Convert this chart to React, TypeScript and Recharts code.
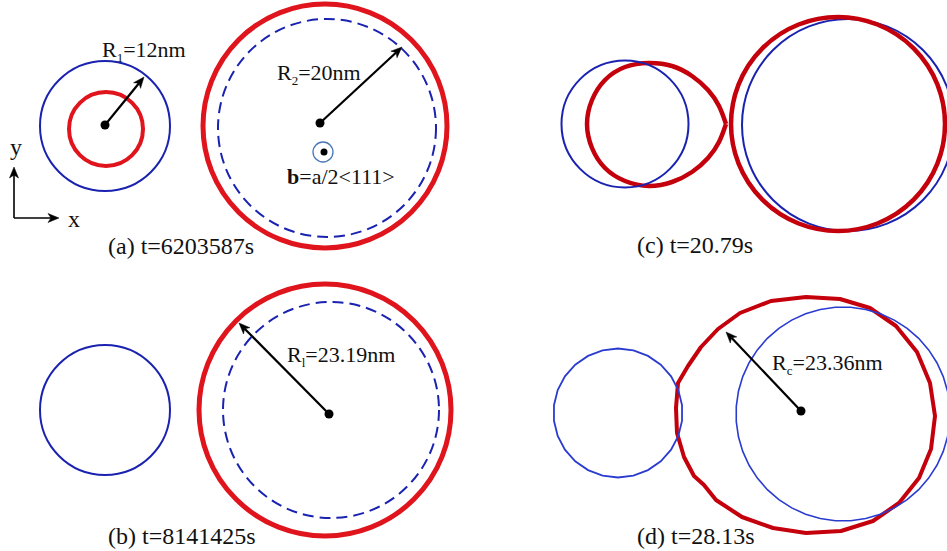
import React from 'react';
import { ComposedChart, XAxis, YAxis, Scatter, Line } from 'recharts';

const W = 947;
const H = 551;
const X_MAX = 947;
const Y_MAX = 551;
const KX = W / X_MAX;
const KY = H / Y_MAX;

// circles: centre (x, y) and radius r, in figure units
const blueCircles = [
  { x: 105, y: 126, r: 65 },
  { x: 105, y: 410, r: 65 },
  { x: 625, y: 124, r: 63.5 },
  { x: 848, y: 125, r: 106 },
];
const blueDashedCircles = [
  { x: 327, y: 128, r: 109 },
  { x: 331, y: 410, r: 108 },
];
const redSmallCircles = [{ x: 106, y: 129, r: 37 }];
const redLargeCircles = [
  { x: 325, y: 126, r: 122 },
  { x: 325, y: 410, r: 126 },
];
const darkRedCircles = [{ x: 838, y: 124, r: 107 }];
const bluePolySmall = [{ x: 618, y: 413, r: 64.5 }];
const bluePolyLarge = [{ x: 843, y: 414, r: 107 }];

// traced outlines
const eggOutline = [
  { x: 726, y: 124 }, { x: 719, y: 142 }, { x: 708, y: 158 }, { x: 692, y: 172 },
  { x: 672, y: 182 }, { x: 649, y: 186 }, { x: 625, y: 181 }, { x: 605, y: 168 },
  { x: 592, y: 148 }, { x: 587, y: 124 }, { x: 592, y: 100 }, { x: 605, y: 80 },
  { x: 625, y: 67 }, { x: 649, y: 63 }, { x: 672, y: 66 }, { x: 692, y: 76 },
  { x: 708, y: 90 }, { x: 719, y: 106 }, { x: 726, y: 124 },
];
const mergedOutline = [
  { x: 806, y: 297 }, { x: 840, y: 299 }, { x: 870, y: 308 }, { x: 896, y: 326 },
  { x: 917, y: 352 }, { x: 930, y: 383 }, { x: 935, y: 416 }, { x: 931, y: 449 },
  { x: 919, y: 478 }, { x: 899, y: 503 }, { x: 873, y: 521 }, { x: 841, y: 531 },
  { x: 806, y: 533 }, { x: 773, y: 528 }, { x: 742, y: 517 }, { x: 716, y: 500 },
  { x: 704, y: 485 }, { x: 694, y: 476 }, { x: 684, y: 457 }, { x: 677, y: 433 },
  { x: 676, y: 408 }, { x: 678, y: 383 }, { x: 688, y: 366 }, { x: 701, y: 347 },
  { x: 718, y: 329 }, { x: 740, y: 313 }, { x: 771, y: 301 },
];

// arrows: from (x, y) to tip (tx, ty)
const radiusArrows = [
  { x: 105, y: 125, tx: 144, ty: 77 },
  { x: 320, y: 123, tx: 402, ty: 47 },
  { x: 329, y: 414, tx: 239, ty: 323 },
  { x: 801, y: 411, tx: 726, ty: 332 },
];
const axisArrows = [
  { x: 14, y: 218, tx: 14, ty: 167 },
  { x: 14, y: 218, tx: 59, ty: 218 },
];
const burgersMark = [{ x: 323, y: 152, r: 10 }];

// texts
const radiusLabels = [
  { x: 102, y: 57, main: 'R', sub: '1', rest: '=12nm' },
  { x: 277, y: 80, main: 'R', sub: '2', rest: '=20nm' },
  { x: 287, y: 362, main: 'R', sub: 'l', rest: '=23.19nm' },
  { x: 772, y: 370, main: 'R', sub: 'c', rest: '=23.36nm' },
];
const burgersLabel = [{ x: 287, y: 184, bold: 'b', rest: '=a/2<111>' }];
const axisLabels = [
  { x: 10, y: 155, text: 'y' },
  { x: 68, y: 227, text: 'x' },
];
const captions = [
  { x: 108, y: 254, text: '(a) t=6203587s' },
  { x: 108, y: 544, text: '(b) t=8141425s' },
  { x: 637, y: 253, text: '(c) t=20.79s' },
  { x: 637, y: 544, text: '(d) t=28.13s' },
];

const FONT = '"Liberation Serif", "Times New Roman", Times, serif';
const RED = '#e0141c';
const DARK_RED = '#c4000c';
const BLUE = '#1a22b0';
const BLUE_D = '#2a3cd0';

const circleShape = (stroke: string, width: number, dash?: string) => (p: any) => (
  <circle
    cx={p.cx}
    cy={p.cy}
    r={p.payload.r * KX}
    fill="none"
    stroke={stroke}
    strokeWidth={width}
    strokeDasharray={dash}
  />
);

const polygonShape = (stroke: string, width: number, n: number) => (p: any) => {
  const r = p.payload.r * KX;
  const pts: string[] = [];
  for (let i = 0; i < n; i++) {
    const a = (2 * Math.PI * i) / n + Math.PI / n;
    pts.push(`${p.cx + r * Math.cos(a)},${p.cy + r * Math.sin(a)}`);
  }
  return <polygon points={pts.join(' ')} fill="none" stroke={stroke} strokeWidth={width} />;
};

const arrowShape = (withDot: boolean, width: number) => (p: any) => {
  const { cx, cy, payload } = p;
  const ex = cx + (payload.tx - payload.x) * KX;
  const ey = cy + (payload.ty - payload.y) * KY;
  const dx = ex - cx;
  const dy = ey - cy;
  const len = Math.hypot(dx, dy) || 1;
  const ux = dx / len;
  const uy = dy / len;
  const hl = 11;
  const hw = 4.5;
  const bx = ex - ux * hl;
  const by = ey - uy * hl;
  const pts = `${ex},${ey} ${bx - uy * hw},${by + ux * hw} ${bx + ux * 3},${by + uy * 3} ${bx + uy * hw},${by - ux * hw}`;
  return (
    <g>
      <line x1={cx} y1={cy} x2={bx + ux * 3} y2={by + uy * 3} stroke="#000" strokeWidth={width} />
      <polygon points={pts} fill="#000" stroke="#000" strokeWidth={0.5} />
      {withDot && <circle cx={cx} cy={cy} r={4.5} fill="#000" />}
    </g>
  );
};

const burgersShape = (p: any) => (
  <g>
    <circle cx={p.cx} cy={p.cy} r={p.payload.r * KX} fill="none" stroke="#4a78b4" strokeWidth={1.3} />
    <circle cx={p.cx + 1} cy={p.cy} r={3.5} fill="#000" />
  </g>
);

const radiusLabelShape = (p: any) => (
  <text x={p.cx} y={p.cy} style={{ fontFamily: FONT }} fontSize={22} fill="#111">
    {p.payload.main}
    <tspan dy={5} fontSize={13}>{p.payload.sub}</tspan>
    <tspan dy={-5}>{p.payload.rest}</tspan>
  </text>
);

const burgersLabelShape = (p: any) => (
  <text x={p.cx} y={p.cy} style={{ fontFamily: FONT }} fontSize={22} fill="#111">
    <tspan fontWeight="bold">{p.payload.bold}</tspan>
    <tspan>{p.payload.rest}</tspan>
  </text>
);

const textShape = (size: number) => (p: any) => (
  <text x={p.cx} y={p.cy} style={{ fontFamily: FONT }} fontSize={size} fill="#111">
    {p.payload.text}
  </text>
);

export default function App() {
  return (
    <div style={{ position: 'absolute', left: 0, top: 0, width: W, height: H, background: '#fff' }}>
      <ComposedChart width={W} height={H} margin={{ top: 0, right: 0, bottom: 0, left: 0 }}>
        <XAxis type="number" dataKey="x" domain={[0, X_MAX]} hide />
        <YAxis type="number" dataKey="y" domain={[0, Y_MAX]} reversed hide />

        <Scatter data={blueCircles} shape={circleShape(BLUE, 2)} isAnimationActive={false} />
        <Scatter data={blueDashedCircles} shape={circleShape(BLUE, 2, '11 6')} isAnimationActive={false} />
        <Scatter data={bluePolySmall} shape={polygonShape(BLUE_D, 1.8, 26)} isAnimationActive={false} />
        <Scatter data={bluePolyLarge} shape={polygonShape(BLUE_D, 1.6, 44)} isAnimationActive={false} />

        <Scatter data={redSmallCircles} shape={circleShape(RED, 4)} isAnimationActive={false} />
        <Scatter data={redLargeCircles} shape={circleShape(RED, 5)} isAnimationActive={false} />
        <Scatter data={darkRedCircles} shape={circleShape(DARK_RED, 4.5)} isAnimationActive={false} />

        <Line
          data={eggOutline}
          dataKey="y"
          type="natural"
          stroke={DARK_RED}
          strokeWidth={4.5}
          dot={false}
          activeDot={false}
          isAnimationActive={false}
        />
        <Line
          data={mergedOutline}
          dataKey="y"
          type="linearClosed"
          stroke={DARK_RED}
          strokeWidth={4}
          strokeLinejoin="round"
          dot={false}
          activeDot={false}
          isAnimationActive={false}
        />

        <Scatter data={radiusArrows} shape={arrowShape(true, 2.2)} isAnimationActive={false} />
        <Scatter data={axisArrows} shape={arrowShape(false, 1.6)} isAnimationActive={false} />
        <Scatter data={burgersMark} shape={burgersShape} isAnimationActive={false} />

        <Scatter data={radiusLabels} shape={radiusLabelShape} isAnimationActive={false} />
        <Scatter data={burgersLabel} shape={burgersLabelShape} isAnimationActive={false} />
        <Scatter data={axisLabels} shape={textShape(24)} isAnimationActive={false} />
        <Scatter data={captions} shape={textShape(24)} isAnimationActive={false} />
      </ComposedChart>
    </div>
  );
}
